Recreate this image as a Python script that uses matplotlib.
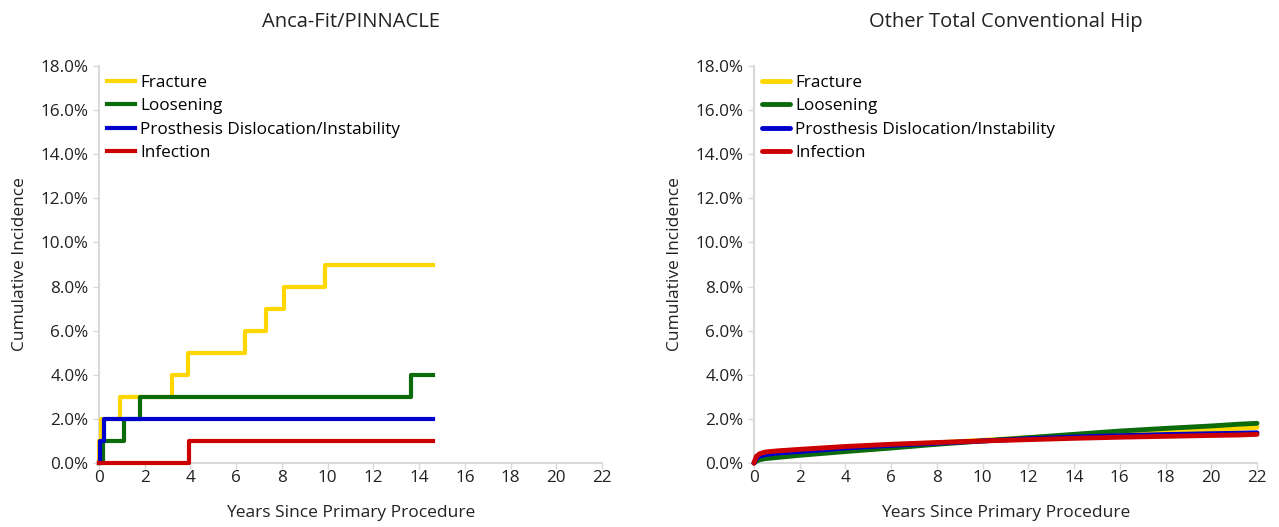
import matplotlib
matplotlib.use('Agg')
import matplotlib.pyplot as plt
from matplotlib.ticker import FuncFormatter

plt.rcParams['font.family'] = ['Open Sans', 'DejaVu Sans']

# Anca-Fit/PINNACLE - step curves (years, cumulative %)
fracture_t = [0, 0.02, 0.1, 0.92, 3.2, 3.9, 6.4, 7.3, 8.1, 9.9, 14.6]
fracture_v = [0, 1, 2, 3, 4, 5, 6, 7, 8, 9, 9]
loosening_t = [0, 0.16, 1.1, 1.8, 13.65, 14.6]
loosening_v = [0, 1, 2, 3, 4, 4]
dislocation_t = [0, 0.03, 0.2, 14.6]
dislocation_v = [0, 1, 2, 2]
infection_t = [0, 3.95, 14.6]
infection_v = [0, 1, 1]

# Other Total Conventional Hip - smooth curves
other_t = [0, 0.1, 0.25, 0.5, 1, 2, 4, 6, 8, 10, 12, 14, 16, 18, 20, 21.2, 22]
other_fracture = [0, 0.2, 0.3, 0.36, 0.43, 0.52, 0.68, 0.8, 0.92, 1.03, 1.15, 1.27, 1.37, 1.45, 1.52, 1.57, 1.62]
other_loosening = [0, 0.08, 0.15, 0.2, 0.25, 0.35, 0.52, 0.68, 0.85, 1.0, 1.15, 1.3, 1.45, 1.57, 1.68, 1.76, 1.8]
other_dislocation = [0, 0.2, 0.32, 0.38, 0.45, 0.52, 0.68, 0.8, 0.9, 1.0, 1.1, 1.18, 1.24, 1.29, 1.33, 1.35, 1.37]
other_infection = [0, 0.3, 0.42, 0.5, 0.55, 0.62, 0.75, 0.85, 0.93, 1.0, 1.06, 1.12, 1.17, 1.21, 1.25, 1.27, 1.3]

labels = ['Fracture', 'Loosening', 'Prosthesis Dislocation/Instability', 'Infection']
colors = ['#FFD700', '#0B6B0B', '#0000CC', '#CC0000']
titles = ['Anca-Fit/PINNACLE', 'Other Total Conventional Hip']

fig = plt.figure(figsize=(12.79, 5.27), dpi=100)
ax1 = fig.add_axes([0.0774, 0.1214, 0.3933, 0.7534])
ax2 = fig.add_axes([0.5895, 0.1214, 0.3933, 0.7534])

left_series = [(fracture_t, fracture_v), (loosening_t, loosening_v),
               (dislocation_t, dislocation_v), (infection_t, infection_v)]
for i, ((t, v), lab, c) in enumerate(zip(left_series, labels, colors)):
    ax1.step(t, v, where='post', color=c, lw=3, label=lab, clip_on=False, zorder=3 + i)

right_series = [other_fracture, other_loosening, other_dislocation, other_infection]
for i, (v, lab, c) in enumerate(zip(right_series, labels, colors)):
    ax2.plot(other_t, v, color=c, lw=3.5, label=lab, solid_capstyle='round',
             clip_on=False, zorder=3 + i)

for ax, title in zip([ax1, ax2], titles):
    ax.set_xlim(0, 22)
    ax.set_ylim(0, 18)
    ax.set_xticks(range(0, 23, 2))
    ax.set_yticks(range(0, 19, 2))
    ax.yaxis.set_major_formatter(FuncFormatter(lambda y, p: '%.1f%%' % y))
    for s in ['top', 'right']:
        ax.spines[s].set_visible(False)
    for s in ['left', 'bottom']:
        ax.spines[s].set_color('#D9D9D9')
        ax.spines[s].set_linewidth(1.5)
    ax.tick_params(colors='#D9D9D9', labelcolor='#222222', labelsize=12.3, length=4, width=1)
    ax.tick_params(axis='x', pad=1)
    ax.set_xlabel('Years Since Primary Procedure', fontsize=12.5, color='#222222', labelpad=14)
    ax.set_ylabel('Cumulative Incidence', fontsize=12.5, color='#222222', labelpad=9)
    ax.set_title(title, fontsize=14.5, color='#222222', pad=28)
    ax.legend(loc='upper left', frameon=False, fontsize=12.3, handlelength=1.65,
              handletextpad=0.3, labelspacing=0.43, borderaxespad=0, borderpad=0,
              bbox_to_anchor=(0.016, 0.977))

fig.savefig('out.png', dpi=100)
